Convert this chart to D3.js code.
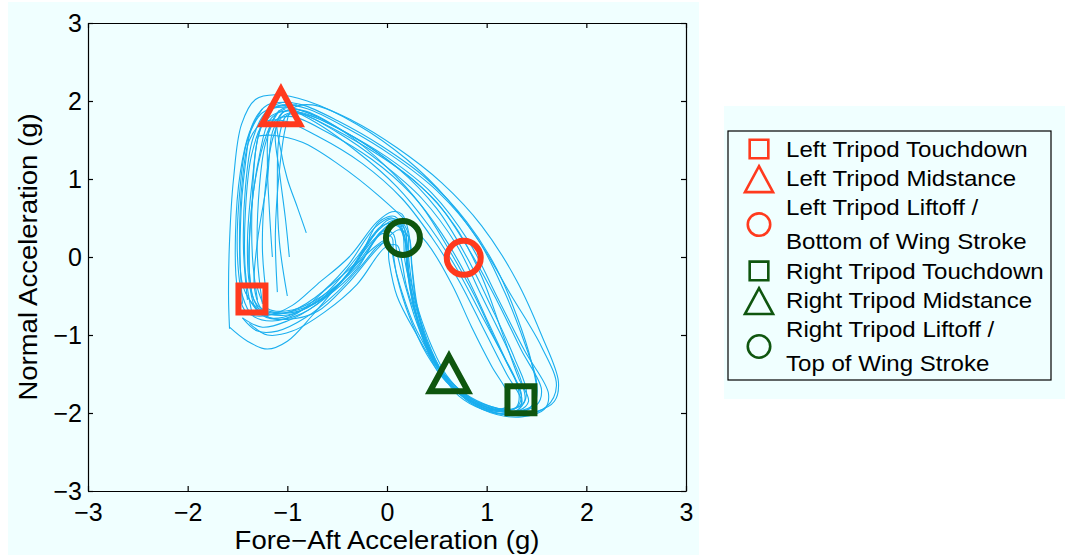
<!DOCTYPE html>
<html>
<head>
<meta charset="utf-8">
<script src="https://cdn.jsdelivr.net/npm/d3@7"></script>
<style>
body { margin: 0; background: #fff; }
text { font-family: "Liberation Sans", Arial, Helvetica, sans-serif; fill: #000; }
</style>
</head>
<body>
<div id="chart"></div>
<script>

var xTicks = [-3, -2, -1, 0, 1, 2, 3];
var yTicks = [-3, -2, -1, 0, 1, 2, 3];
var xTitle = "Fore\u2212Aft Acceleration (g)";
var yTitle = "Normal Acceleration (g)";

// stride trajectories (fore-aft g, normal g)
var trace01 = [[-1.58,-0.92],[-1.59,-0.5],[-1.58,0.2],[-1.54,1.0],[-1.46,1.7],[-1.32,2.02],[-1.12,2.08],[-0.8,2.0],[-0.3,1.7],[0.2,1.25],[0.6,0.75],[0.95,0.15],[1.25,-0.5],[1.55,-1.15],[1.7,-1.65],[1.6,-1.92],[1.35,-2.03],[1.05,-1.98],[0.78,-1.8],[0.55,-1.5],[0.38,-1.1],[0.26,-0.6],[0.2,-0.1],[0.17,0.3],[0.08,0.52],[-0.08,0.45],[-0.3,-0.05],[-0.6,-0.4],[-0.9,-0.72],[-1.15,-0.82],[-1.35,-0.75],[-1.45,-0.5],[-1.5,0.0],[-1.48,0.8],[-1.4,1.5],[-1.25,1.85],[-1.0,1.92],[-0.7,1.8]];
var trace02 = [[-0.81,0.31],[-0.9,0.64],[-1.0,1.0],[-1.07,1.4],[-1.1,1.75],[-1.0,1.88],[-0.75,1.75],[-0.3,1.35],[0.1,0.9],[0.42,0.4],[0.7,-0.15],[0.95,-0.75],[1.18,-1.3],[1.32,-1.7],[1.3,-1.92],[1.12,-1.98],[0.9,-1.9],[0.7,-1.68],[0.5,-1.38],[0.3,-0.95],[0.15,-0.45],[0.06,0.0],[0.05,0.25],[-0.05,0.3],[-0.25,0.0],[-0.55,-0.45],[-0.85,-0.72],[-1.1,-0.8],[-1.3,-0.7],[-1.38,-0.35],[-1.4,0.2],[-1.35,1.0],[-1.28,1.6],[-1.15,1.9],[-0.9,1.95]];
var trace03 = [[-0.98,0.0],[-1.02,0.5],[-1.08,1.1],[-1.12,1.6],[-1.05,1.85],[-0.85,1.88],[-0.45,1.62],[0.0,1.15],[0.35,0.65],[0.62,0.1],[0.88,-0.5],[1.1,-1.1],[1.3,-1.6],[1.35,-1.88],[1.2,-1.97],[0.98,-1.92],[0.72,-1.72],[0.52,-1.42],[0.36,-1.0],[0.25,-0.5],[0.2,0.0],[0.18,0.35],[0.08,0.45],[-0.15,0.2],[-0.45,-0.3],[-0.8,-0.65],[-1.05,-0.75],[-1.25,-0.68],[-1.33,-0.4],[-1.3,0.2],[-1.2,1.0],[-1.15,1.6],[-1.05,1.85]];
var trace04 = [[-1.15,0.0],[-1.18,0.6],[-1.2,1.2],[-1.18,1.65],[-1.05,1.9],[-0.8,1.85],[-0.35,1.55],[0.1,1.15],[0.5,0.62],[0.8,0.0],[1.05,-0.65],[1.28,-1.3],[1.4,-1.75],[1.32,-1.95],[1.1,-1.98],[0.85,-1.85],[0.62,-1.6],[0.45,-1.3],[0.3,-0.85],[0.18,-0.35],[0.1,0.05],[0.06,0.3],[-0.05,0.33],[-0.3,-0.15],[-0.6,-0.5],[-0.9,-0.68],[-1.15,-0.72],[-1.33,-0.62],[-1.45,-0.35],[-1.47,0.4],[-1.42,1.2],[-1.35,1.7],[-1.2,1.95],[-0.95,1.98]];
var trace05 = [[-1.3,1.55],[-1.15,1.56],[-0.85,1.47],[-0.5,1.2],[-0.07,0.77],[0.4,0.18],[0.65,-0.35],[0.85,-0.9],[1.05,-1.4],[1.22,-1.78],[1.2,-1.92],[1.02,-1.95],[0.8,-1.82],[0.6,-1.6],[0.4,-1.25],[0.22,-0.75],[0.1,-0.25],[0.05,0.1],[0.0,0.22],[-0.15,0.1],[-0.45,-0.3],[-0.75,-0.75],[-1.0,-1.08],[-1.2,-1.18],[-1.4,-1.08],[-1.58,-0.9]];
var trace06 = [[-1.3,-0.55],[-1.35,0.0],[-1.35,0.8],[-1.3,1.5],[-1.2,1.85],[-1.05,1.95],[-0.8,1.9],[-0.4,1.65],[0.05,1.3],[0.5,0.85],[0.9,0.25],[1.18,-0.45],[1.38,-1.1],[1.5,-1.6],[1.48,-1.88],[1.3,-1.98],[1.08,-1.95],[0.8,-1.82],[0.58,-1.55],[0.42,-1.15],[0.3,-0.65],[0.25,-0.15],[0.22,0.3],[0.15,0.55],[0.05,0.58],[-0.1,0.45],[-0.38,0.0],[-0.7,-0.35],[-0.95,-0.62],[-1.2,-0.75],[-1.4,-0.72],[-1.5,-0.4],[-1.52,0.3],[-1.47,1.1],[-1.38,1.6],[-1.25,1.9]];
var trace07 = [[-1.2,-0.6],[-1.25,0.1],[-1.22,0.9],[-1.15,1.5],[-1.05,1.8],[-0.9,1.85],[-0.5,1.6],[-0.05,1.2],[0.35,0.75],[0.7,0.15],[0.95,-0.5],[1.2,-1.15],[1.35,-1.6],[1.38,-1.85],[1.25,-1.95],[1.0,-1.9],[0.75,-1.75],[0.55,-1.5],[0.4,-1.1],[0.3,-0.6],[0.25,-0.1],[0.22,0.25],[0.12,0.35],[-0.1,0.1],[-0.4,-0.35],[-0.7,-0.7],[-1.0,-0.8],[-1.22,-0.75],[-1.35,-0.5],[-1.38,0.2],[-1.32,1.0],[-1.2,1.6],[-1.08,1.88]];
var trace08 = [[-1.45,-0.6],[-1.48,0.2],[-1.45,1.0],[-1.38,1.5],[-1.25,1.72],[-1.05,1.75],[-0.7,1.55],[-0.25,1.2],[0.15,0.75],[0.45,0.25],[0.72,-0.3],[0.98,-0.95],[1.2,-1.5],[1.35,-1.85],[1.3,-1.98],[1.1,-2.0],[0.88,-1.9],[0.68,-1.7],[0.5,-1.42],[0.3,-1.0],[0.1,-0.5],[0.02,-0.05],[0.0,0.18],[-0.08,0.15],[-0.25,-0.1],[-0.5,-0.45],[-0.82,-0.78],[-1.1,-0.95],[-1.3,-0.95],[-1.45,-0.78]];
var trace09 = [[-1.0,-0.5],[-1.08,0.2],[-1.1,1.0],[-1.08,1.55],[-1.0,1.82],[-0.8,1.82],[-0.35,1.55],[0.1,1.15],[0.5,0.7],[0.82,0.1],[1.1,-0.55],[1.35,-1.2],[1.55,-1.7],[1.5,-1.9],[1.3,-1.98],[1.05,-1.92],[0.78,-1.75],[0.56,-1.48],[0.4,-1.05],[0.28,-0.55],[0.22,-0.05],[0.2,0.35],[0.1,0.48],[-0.08,0.35],[-0.38,-0.2],[-0.72,-0.62],[-1.0,-0.82],[-1.25,-0.9],[-1.45,-0.78]];
var trace10 = [[-1.05,1.95],[-0.7,1.75],[-0.2,1.4],[0.3,0.95],[0.68,0.4],[0.95,-0.25],[1.15,-0.95],[1.32,-1.55],[1.42,-1.85],[1.32,-1.97],[1.1,-1.97],[0.85,-1.82],[0.6,-1.55],[0.42,-1.2],[0.3,-0.75],[0.22,-0.25],[0.2,0.2],[0.14,0.45],[0.02,0.48],[-0.18,0.2],[-0.45,-0.3],[-0.8,-0.65],[-1.05,-0.72],[-1.3,-0.62],[-1.38,-0.2],[-1.36,0.6],[-1.28,1.3],[-1.18,1.75],[-1.02,1.9]];
var trace11 = [[-1.35,-0.75],[-1.42,-0.2],[-1.42,0.6],[-1.36,1.3],[-1.25,1.7],[-1.1,1.85],[-0.85,1.85],[-0.45,1.62],[0.0,1.28],[0.45,0.82],[0.82,0.2],[1.1,-0.5],[1.38,-1.2],[1.62,-1.75],[1.58,-1.95],[1.35,-2.05],[1.1,-2.02],[0.85,-1.88],[0.63,-1.62],[0.47,-1.28],[0.32,-0.85],[0.2,-0.4],[0.14,0.0],[0.1,0.15],[-0.02,0.12],[-0.3,-0.35],[-0.62,-0.7],[-0.95,-0.95],[-1.2,-1.0],[-1.38,-0.85]];
var trace12 = [[-1.1,-0.45],[-1.12,0.3],[-1.08,1.1],[-1.02,1.65],[-0.95,1.9],[-0.75,1.95],[-0.35,1.75],[0.1,1.4],[0.55,0.95],[0.95,0.4],[1.3,-0.3],[1.55,-1.0],[1.72,-1.6],[1.68,-1.85],[1.5,-1.98],[1.25,-2.0],[0.95,-1.9],[0.7,-1.72],[0.5,-1.45],[0.36,-1.05],[0.26,-0.6],[0.2,-0.15],[0.18,0.25],[0.1,0.4],[-0.05,0.32],[-0.3,-0.12],[-0.65,-0.5],[-0.95,-0.68],[-1.2,-0.66],[-1.3,-0.4]];
var trace13 = [[-1.25,-0.6],[-1.3,0.0],[-1.28,0.9],[-1.22,1.45],[-1.12,1.75],[-0.95,1.8],[-0.6,1.6],[-0.15,1.25],[0.25,0.8],[0.55,0.3],[0.8,-0.25],[1.02,-0.85],[1.22,-1.4],[1.35,-1.78],[1.28,-1.95],[1.05,-1.93],[0.8,-1.78],[0.6,-1.52],[0.45,-1.15],[0.32,-0.7],[0.22,-0.2],[0.18,0.2],[0.1,0.42],[-0.05,0.4],[-0.3,0.0],[-0.6,-0.45],[-0.92,-0.72],[-1.18,-0.78],[-1.35,-0.6]];
var trace14 = [[-1.4,-0.55],[-1.44,0.1],[-1.42,0.9],[-1.35,1.5],[-1.22,1.85],[-1.05,1.98],[-0.85,1.95],[-0.5,1.75],[-0.05,1.42],[0.4,1.0],[0.8,0.45],[1.1,-0.15],[1.3,-0.75],[1.45,-1.35],[1.5,-1.75],[1.42,-1.95],[1.2,-2.02],[0.95,-1.95],[0.72,-1.78],[0.55,-1.5],[0.4,-1.1],[0.27,-0.55],[0.18,-0.05],[0.15,0.35],[0.05,0.5],[-0.12,0.38],[-0.4,-0.12],[-0.72,-0.52],[-1.02,-0.72],[-1.28,-0.7],[-1.42,-0.45]];
var trajectories = [trace01, trace02, trace03, trace04, trace05, trace06, trace07,
                    trace08, trace09, trace10, trace11, trace12, trace13, trace14];

// gait event markers
var eventLabels = [["Left Tripod Touchdown"], ["Left Tripod Midstance"],
                   ["Left Tripod Liftoff /", "Bottom of Wing Stroke"],
                   ["Right Tripod Touchdown"], ["Right Tripod Midstance"],
                   ["Right Tripod Liftoff /", "Top of Wing Stroke"]];
var eventShape = ["square", "triangle", "circle", "square", "triangle", "circle"];
var eventSide = ["left", "left", "left", "right", "right", "right"];
var eventX = [-1.355, -1.064, 0.77, 1.344, 0.622, 0.16];
var eventY = [-0.54, 1.906, -0.01, -1.83, -1.517, 0.244];


var W = 1065, H = 556;
var red = "#ff3a1e", green = "#0f560f", blue = "#1aaeef", bg = "#f0ffff";
var sideColor = {left: red, right: green};

var svg = d3.select("#chart").append("svg")
            .attr("width", W)
            .attr("height", H);

svg.append("rect").attr("x", 8).attr("y", 2).attr("width", 691).attr("height", 553).attr("fill", bg);
svg.append("rect").attr("x", 724).attr("y", 106).attr("width", 341).attr("height", 293).attr("fill", bg);

var x = d3.scaleLinear().domain([-3, 3]).range([88, 686]);
var y = d3.scaleLinear().domain([-3, 3]).range([491, 23]);

// marker shape path, s = size factor
function shapePath(shape, s) {
  if (shape == "square") {
    var h = 13.5 * s;
    return "M" + (-h) + "," + (-h) + "H" + h + "V" + h + "H" + (-h) + "Z";
  }
  if (shape == "triangle") {
    return "M0," + (-19 * s) + "L" + (19 * s) + "," + (16 * s) + "L" + (-19 * s) + "," + (16 * s) + "Z";
  }
  var r = 17 * s;
  return "M" + r + ",0A" + r + "," + r + " 0 1,1 " + (-r) + ",0A" + r + "," + r + " 0 1,1 " + r + ",0Z";
}

// traces
var line = d3.line()
             .x(function(d) { return x(d[0]); })
             .y(function(d) { return y(d[1]); })
             .curve(d3.curveCatmullRom.alpha(0.5));

svg.append("g").selectAll("path")
   .data(trajectories).enter().append("path")
   .attr("d", line)
   .attr("fill", "none")
   .attr("stroke", blue)
   .attr("stroke-width", 1.1);

// axes box with inward ticks
var tickLen = 5;
var fmt = d3.format("d");
var xAxis = d3.axisBottom(x).tickValues(xTicks).tickFormat(fmt).tickSizeInner(-tickLen).tickSizeOuter(0).tickPadding(12);
var yAxis = d3.axisLeft(y).tickValues(yTicks).tickFormat(fmt).tickSizeInner(-tickLen).tickSizeOuter(0).tickPadding(6);
var xTop = d3.axisTop(x).tickValues(xTicks).tickSizeInner(-tickLen).tickSizeOuter(0).tickFormat("");
var yRight = d3.axisRight(y).tickValues(yTicks).tickSizeInner(-tickLen).tickSizeOuter(0).tickFormat("");

svg.append("g").attr("transform", "translate(0," + y(-3) + ")").call(xAxis);
svg.append("g").attr("transform", "translate(" + x(-3) + ",0)").call(yAxis);
svg.append("g").attr("transform", "translate(0," + y(3) + ")").call(xTop);
svg.append("g").attr("transform", "translate(" + x(3) + ",0)").call(yRight);

svg.selectAll(".tick text")
   .attr("font-family", "Liberation Sans, Arial, sans-serif")
   .attr("font-size", 25)
   .attr("fill", "#000");
svg.selectAll(".domain, .tick line").attr("stroke", "#000").attr("stroke-width", 1.2);

// titles (slightly wide lettering, as in the source image)
svg.append("text")
   .attr("transform", "translate(" + x(0) + ",549) scale(1.1,1)")
   .attr("text-anchor", "middle")
   .attr("font-size", 25)
   .text(xTitle);
svg.append("text")
   .attr("transform", "translate(37," + y(0) + ") rotate(-90) scale(1.1,1)")
   .attr("text-anchor", "middle")
   .attr("font-size", 25)
   .text(yTitle);

// event markers on the plot
svg.append("g").selectAll("path")
   .data(eventShape).enter().append("path")
   .attr("d", function(d) { return shapePath(d, 1); })
   .attr("transform", function(d, i) { return "translate(" + x(eventX[i]) + "," + y(eventY[i]) + ")"; })
   .attr("fill", "none")
   .attr("stroke", function(d, i) { return sideColor[eventSide[i]]; })
   .attr("stroke-width", 6)
   .attr("stroke-linejoin", "miter");

// legend
var legend = svg.append("g");
legend.append("rect")
      .attr("x", 728).attr("y", 131).attr("width", 323).attr("height", 249)
      .attr("fill", bg).attr("stroke", "#000").attr("stroke-width", 1.2);

var rowY = 149, lineGap = 34, entryGap = 29.3;
eventLabels.forEach(function(lines, i) {
  var ys = lines.map(function(t, k) { return rowY + k * lineGap; });
  var my = d3.mean(ys);
  var s = eventShape[i] == "circle" ? 0.66 : (eventShape[i] == "square" ? 0.69 : 0.74);
  legend.append("path")
        .attr("d", shapePath(eventShape[i], s))
        .attr("transform", "translate(759," + (my + (eventShape[i] == "triangle" ? 2 : 0)) + ")")
        .attr("fill", "none")
        .attr("stroke", sideColor[eventSide[i]])
        .attr("stroke-width", 2.6);
  lines.forEach(function(t, k) {
    legend.append("text")
          .attr("transform", "translate(786," + (ys[k] + 7.7) + ") scale(1.12,1)")
          .attr("font-size", 21.5)
          .text(t);
  });
  rowY = ys[ys.length - 1] + entryGap;
});

</script>
</body>
</html>
